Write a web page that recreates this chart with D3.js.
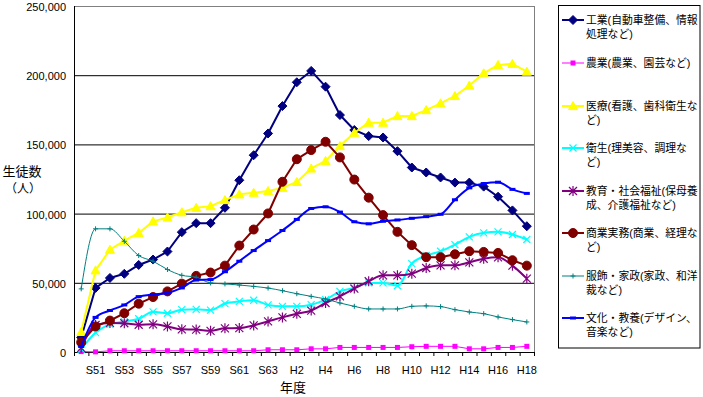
<!DOCTYPE html>
<html><head><meta charset="utf-8">
<script src="https://cdn.jsdelivr.net/npm/d3@7/dist/d3.min.js"></script>
<style>
html,body{margin:0;padding:0;background:#fff;}
svg{display:block;font-family:"Liberation Sans","Noto Sans CJK JP",sans-serif;}
</style></head>
<body>
<svg id="chart" width="703" height="397"></svg>
<script>
// ---- data ----
const years = ["S50","S51","S52","S53","S54","S55","S56","S57","S58","S59","S60","S61","S62","S63",
  "H1","H2","H3","H4","H5","H6","H7","H8","H9","H10","H11","H12","H13","H14","H15","H16","H17","H18"];
const xTickLabels = ["S51","S53","S55","S57","S59","S61","S63","H2","H4","H6","H8","H10","H12","H14","H16","H18"];
const yTicks = [0, 50000, 100000, 150000, 200000, 250000];

const kogyo    = [10500,46300,53500,56500,62900,66800,72600,86600,93100,93100,104200,124100,142200,157900,177700,194900,203100,191700,171200,160400,156000,155000,145100,133300,129700,126100,122400,122400,119500,112200,102300,90900];
const nogyo    = [300,100,900,900,900,900,900,900,900,900,900,900,900,1600,1600,1600,2300,2300,3300,3300,3300,3300,3300,3800,4100,4100,4100,2300,2300,3300,3300,4100];
const iryo     = [14500,59000,73900,80400,86000,94400,97200,101000,104200,105400,109800,113900,115100,116300,118600,122900,132600,138100,148800,158400,165700,165700,170500,170500,174800,179700,185000,192500,201400,207400,208200,202600];
const eisei    = [2000,14000,20000,22000,24000,29000,28000,30600,30800,30300,35000,36600,37400,34000,33000,33000,34200,37800,43800,46300,49900,49900,47900,63900,69700,72800,77600,83200,86100,86800,84900,81300];
const kyoiku   = [3000,19500,21000,20800,19700,20000,18500,16400,16200,15300,17100,17300,19200,22100,25000,27600,29900,35400,40200,45800,51100,55400,55400,56600,60700,62600,62600,64800,67400,68400,62400,53000];
const shogyo   = [7000,18500,22700,28000,34900,39700,43800,49400,55000,57400,62400,76900,88500,100100,123000,139300,145900,151900,140600,124600,111500,98900,86800,77200,68500,68500,70600,72800,72300,71600,66300,62400];
const fukushoku= [45600,89000,89000,80000,69700,65600,59600,55400,54000,49900,49200,48400,47400,46200,44300,42100,40200,38300,35400,33000,31100,31100,31100,33000,33300,32800,30600,28900,27700,25300,23400,21700];
const bunka    = [4000,25000,30000,34000,40000,41500,42700,46300,52000,52300,58000,65600,73300,80500,87800,95800,103700,104900,101100,94100,92600,94500,95400,96600,97800,99500,110000,118600,121700,122700,117500,114600];

const seriesNames = [
  ["工業(自動車整備、情報","処理など)"],
  ["農業(農業、園芸など)"],
  ["医療(看護、歯科衛生な","ど)"],
  ["衛生(理美容、調理な","ど)"],
  ["教育・社会福祉(保母養","成、介護福祉など)"],
  ["商業実務(商業、経理な","ど)"],
  ["服飾・家政(家政、和洋","裁など)"],
  ["文化・教養(デザイン、","音楽など)"]
];
const seriesValues = [kogyo, nogyo, iryo, eisei, kyoiku, shogyo, fukushoku, bunka];
const seriesColors = ["#000080","#FF00FF","#FFFF00","#00FFFF","#800080","#800000","#008080","#0000FF"];
const seriesWidths = [2,1,2,2,2,2,1,2];
const seriesMarkers = ["diamond","square","triangle","x","star","circle","plus","dash"];
const seriesSmooth = [false,false,false,true,true,false,true,true];

// ---- layout ----
const svg = d3.select("#chart");
const L = 74, R = 534, T = 6, B = 352;
const x = d3.scaleBand().domain(years).range([L, R]).padding(0);
const y = d3.scaleLinear().domain([0, 250000]).range([B, T]);
const cx = d => x(d) + x.bandwidth() / 2;

// gridlines + y labels
const yAxis = d3.axisLeft(y).tickValues(yTicks).tickSize(0).tickPadding(8).tickFormat(d3.format(","));
const gy = svg.append("g").attr("transform", `translate(${L},0)`).call(yAxis);
gy.select(".domain").remove();
gy.selectAll("text").attr("font-size", 11).attr("fill", "#000").attr("dy", null)
  .attr("y", 4.5)
  .attr("font-family", '"Liberation Sans",Arial,sans-serif');
svg.append("g").selectAll("line").data(yTicks.filter(v => v > 0 && v < 250000)).join("line")
  .attr("x1", L).attr("x2", R).attr("y1", d => y(d) + 0.5).attr("y2", d => y(d) + 0.5)
  .attr("stroke", "#000").attr("stroke-width", 1);

// frame
svg.append("line").attr("x1", L).attr("x2", R + 0.5).attr("y1", y(250000) + 0.5).attr("y2", y(250000) + 0.5)
  .attr("stroke", "#808080");
svg.append("line").attr("x1", R + 0.5).attr("x2", R + 0.5).attr("y1", T).attr("y2", B)
  .attr("stroke", "#808080");

// x axis
const xAxis = d3.axisBottom(x).tickValues(xTickLabels).tickSize(0).tickPadding(14);
const gx = svg.append("g").attr("transform", `translate(0,${B})`).call(xAxis);
gx.select(".domain").remove();
gx.selectAll("text").attr("font-size", 11).attr("fill", "#000")
  .attr("font-family", '"Liberation Sans",Arial,sans-serif');
// category boundary ticks
svg.append("g").selectAll("line").data(years.concat(["__end"])).join("line")
  .attr("x1", d => (d === "__end" ? R : x(d)) + 0.5)
  .attr("x2", d => (d === "__end" ? R : x(d)) + 0.5)
  .attr("y1", B).attr("y2", B + 4).attr("stroke", "#000");
// axis lines
svg.append("line").attr("x1", L + 0.5).attr("x2", L + 0.5).attr("y1", T).attr("y2", B + 0.5).attr("stroke", "#000");
svg.append("line").attr("x1", L).attr("x2", R + 1).attr("y1", B + 0.5).attr("y2", B + 0.5).attr("stroke", "#000");

// ---- markers ----
function drawMarker(g, type, color, px, py) {
  if (type === "diamond") {
    const r = 4.5;
    g.append("path").attr("d", `M${px},${py - r}L${px + r},${py}L${px},${py + r}L${px - r},${py}Z`)
      .attr("fill", color).attr("stroke", color).attr("stroke-width", 1);
  } else if (type === "square") {
    const r = 2.5;
    g.append("rect").attr("x", px - r).attr("y", py - r).attr("width", 2 * r).attr("height", 2 * r)
      .attr("fill", color);
  } else if (type === "triangle") {
    const r = 4.5;
    g.append("path").attr("d", `M${px},${py - r}L${px + r},${py + r * 0.8}L${px - r},${py + r * 0.8}Z`)
      .attr("fill", color).attr("stroke", color).attr("stroke-width", 1);
  } else if (type === "x") {
    const r = 3.5;
    g.append("path").attr("d", `M${px - r},${py - r}L${px + r},${py + r}M${px + r},${py - r}L${px - r},${py + r}`)
      .attr("stroke", color).attr("stroke-width", 1.2).attr("fill", "none");
  } else if (type === "star") {
    const r = 4;
    g.append("path").attr("d", `M${px - r},${py - r}L${px + r},${py + r}M${px + r},${py - r}L${px - r},${py + r}M${px},${py - r - 1}L${px},${py + r + 1}`)
      .attr("stroke", color).attr("stroke-width", 1.2).attr("fill", "none");
  } else if (type === "circle") {
    g.append("circle").attr("cx", px).attr("cy", py).attr("r", 4.5)
      .attr("fill", color).attr("stroke", color);
  } else if (type === "plus") {
    const r = 2.5;
    g.append("path").attr("d", `M${px - r},${py}L${px + r},${py}M${px},${py - r}L${px},${py + r}`)
      .attr("stroke", color).attr("stroke-width", 1).attr("fill", "none");
  } else if (type === "dash") {
    g.append("rect").attr("x", px - 3).attr("y", py - 1.5).attr("width", 6).attr("height", 3)
      .attr("fill", color);
  }
}

// ---- series ----
seriesValues.forEach((vals, i) => {
  const g = svg.append("g");
  const data = years.map((yr, j) => ({ yr, v: vals[j] }));
  const line = d3.line().x(d => cx(d.yr)).y(d => y(d.v))
    .curve(seriesSmooth[i] ? d3.curveMonotoneX : d3.curveLinear);
  g.append("path").datum(data).attr("d", line).attr("fill", "none")
    .attr("stroke", seriesColors[i]).attr("stroke-width", seriesWidths[i])
    .attr("stroke-linejoin", "round");
  data.forEach(d => drawMarker(g, seriesMarkers[i], seriesColors[i], cx(d.yr), y(d.v)));
});

// ---- titles ----
const yt = svg.append("text").attr("text-anchor", "middle");
yt.append("tspan").attr("x", 22).attr("y", 176).attr("font-size", 13).text("生徒数");
yt.append("tspan").attr("x", 23).attr("y", 193).attr("font-size", 12).text("（人）");
svg.append("text").attr("x", 293).attr("y", 392).attr("text-anchor", "middle")
  .attr("font-size", 13).text("年度");

// ---- legend ----
const lg = svg.append("g");
lg.append("rect").attr("x", 558.5).attr("y", 5.5).attr("width", 141.5).attr("height", 342.5)
  .attr("fill", "#fff").attr("stroke", "#000").attr("stroke-width", 1);
const legendY = [20, 63, 106, 148, 191, 233, 276, 318];
seriesNames.forEach((lines, i) => {
  const ly = legendY[i];
  const g = lg.append("g");
  g.append("line").attr("x1", 562).attr("x2", 584).attr("y1", ly).attr("y2", ly)
    .attr("stroke", seriesColors[i]).attr("stroke-width", seriesWidths[i]);
  drawMarker(g, seriesMarkers[i], seriesColors[i], 573, ly);
  const t = g.append("text").attr("font-size", 10.8).attr("fill", "#000");
  lines.forEach((s, k) => {
    t.append("tspan").attr("x", 586).attr("y", ly + 4 + k * 13.5).text(s);
  });
});
</script>
</body></html>
